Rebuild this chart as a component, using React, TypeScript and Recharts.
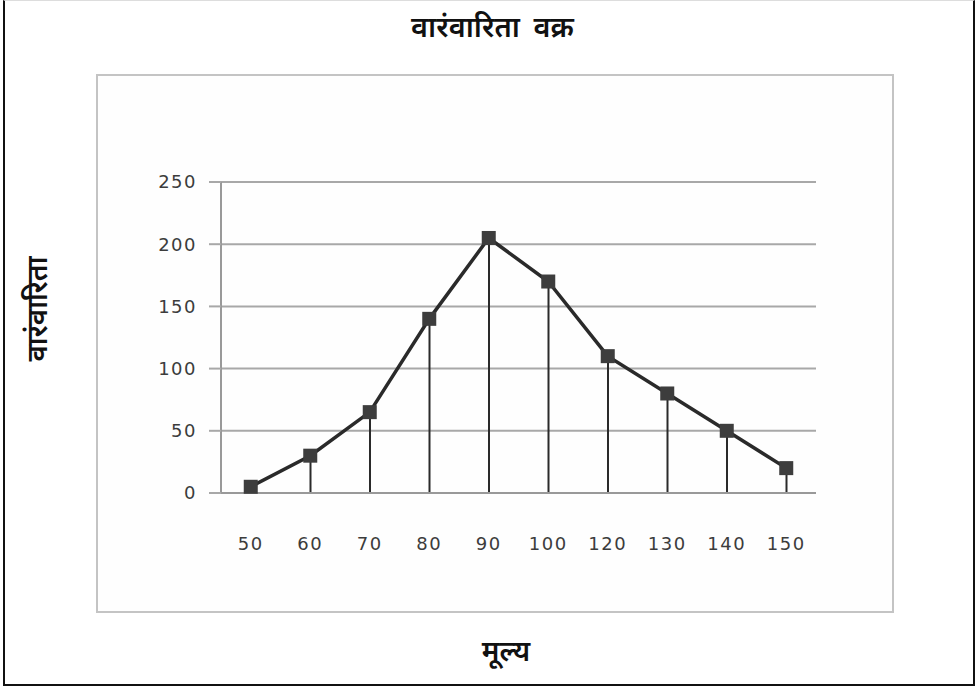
import React from "react";
import { ComposedChart, Line, Bar, XAxis, YAxis, CartesianGrid } from "recharts";

const values = ["50", "60", "70", "80", "90", "100", "120", "130", "140", "150"];
const frequency = [5, 30, 65, 140, 205, 170, 110, 80, 50, 20];
const yTicks = [0, 50, 100, 150, 200, 250];

const chartTitle = "वारंवारिता वक्र";
const yLabel = "वारंवारिता";
const xLabel = "मूल्य";

const data = values.map((v, i) => ({ value: v, freq: frequency[i] }));

const deva = "'Noto Sans Devanagari', 'Lohit Devanagari', 'Noto Sans', sans-serif";
const tickFont = {
  fill: "#3c3c3c",
  fontSize: 18,
  fontFamily: "'DejaVu Sans', Verdana, sans-serif",
  letterSpacing: 1.5,
};

const SquareDot = (props: any) => {
  const { cx, cy } = props;
  if (cx == null || cy == null) return null;
  return <rect x={cx - 7} y={cy - 7} width={14} height={14} fill="#3d3d3d" />;
};

export default function App() {
  return (
    <div style={{ position: "absolute", left: 0, top: 0, width: 979, height: 690, background: "#fff" }}>
      {/* outer frame */}
      <div
        style={{
          position: "absolute",
          left: 3,
          top: 0,
          width: 972,
          height: 686,
          borderLeft: "2px solid #111",
          borderRight: "2px solid #111",
          borderBottom: "2px solid #111",
          borderTop: "1px solid #ddd",
          boxSizing: "border-box",
        }}
      />
      <div
        style={{
          position: "absolute",
          left: 0,
          top: 10,
          width: 985,
          textAlign: "center",
          fontFamily: deva,
          fontWeight: 600,
          fontSize: 29,
          wordSpacing: 6,
          lineHeight: "40px",
          color: "#111",
        }}
      >
        {chartTitle}
      </div>
      <div
        style={{
          position: "absolute",
          left: 40,
          top: 309,
          transform: "translate(-50%, -50%) rotate(-90deg)",
          fontFamily: deva,
          fontWeight: 600,
          fontSize: 28,
          color: "#111",
          whiteSpace: "nowrap",
        }}
      >
        {yLabel}
      </div>
      <div
        style={{
          position: "absolute",
          left: 0,
          top: 634,
          width: 1012,
          textAlign: "center",
          fontFamily: deva,
          fontWeight: 600,
          fontSize: 28,
          lineHeight: "40px",
          color: "#111",
        }}
      >
        {xLabel}
      </div>
      {/* plot box */}
      <div
        style={{
          position: "absolute",
          left: 96,
          top: 74,
          width: 798,
          height: 539,
          border: "2px solid #c4c4c4",
          boxSizing: "border-box",
          background: "#fefefe",
        }}
      >
        <ComposedChart
          width={794}
          height={535}
          data={data}
          margin={{ top: 106, right: 76, bottom: 88, left: 0 }}
        >
          <CartesianGrid vertical={false} stroke="#a8a8a8" strokeWidth={2} />
          <XAxis
            dataKey="value"
            axisLine={{ stroke: "#999", strokeWidth: 2 }}
            tickLine={false}
            tickMargin={38}
            tick={tickFont}
            interval={0}
          />
          <YAxis
            domain={[0, 250]}
            ticks={yTicks}
            width={123}
            axisLine={{ stroke: "#999", strokeWidth: 2 }}
            tickLine={{ stroke: "#a8a8a8", strokeWidth: 2 }}
            tickSize={12}
            tickMargin={12}
            tick={tickFont}
          />
          <Bar dataKey="freq" barSize={2} fill="#2a2a2a" isAnimationActive={false} />
          <Line
            type="linear"
            dataKey="freq"
            stroke="#2a2a2a"
            strokeWidth={3.5}
            dot={<SquareDot />}
            activeDot={false}
            isAnimationActive={false}
          />
        </ComposedChart>
      </div>
    </div>
  );
}
